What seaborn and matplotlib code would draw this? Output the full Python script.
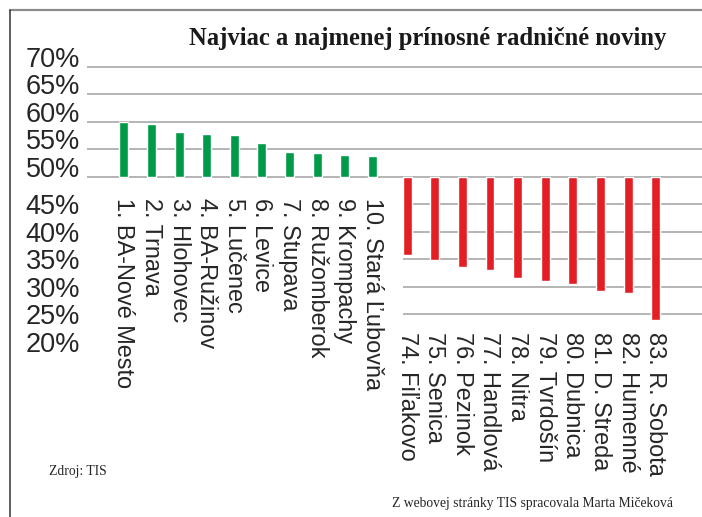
#!/usr/bin/env python3
#===============================================================================
# plot.py
#===============================================================================

# Imports ======================================================================

import numpy as np
import pandas as pd
import seaborn as sns
import matplotlib.pyplot as plt
from matplotlib.lines import Line2D


# Data =========================================================================

top_towns = [
    '1. BA-Nové Mesto', '2. Trnava', '3. Hlohovec', '4. BA-Ružinov',
    '5. Lučenec', '6. Levice', '7. Stupava', '8. Ružomberok',
    '9. Krompachy', '10. Stará Ľubovňa'
]
top_values = [60.0, 59.6, 58.2, 57.8, 57.6, 56.2, 54.5, 54.3, 54.0, 53.8]

bottom_towns = [
    '74. Fiľakovo', '75. Senica', '76. Pezinok', '77. Handlová',
    '78. Nitra', '79. Tvrdošín', '80. Dubnica', '81. D. Streda',
    '82. Humenné', '83. R. Sobota'
]
bottom_values = [35.8, 34.9, 33.7, 33.1, 31.7, 31.1, 30.6, 29.3, 28.9, 24.0]

y_ticks = [70, 65, 60, 55, 50, 45, 40, 35, 30, 25, 20]
baseline = 50

title = 'Najviac a najmenej prínosné radničné noviny'
source_left = 'Zdroj: TIS'
source_right = 'Z webovej stránky TIS spracovala Marta Mičeková'

GREEN = '#009b48'
RED = '#e31e24'
GRID = '#a8a8a8'
TEXT = '#262626'
W, H = 702, 517


# Functions ====================================================================

def fx(px):
    return px / W


def fy(py):
    return 1 - py / H


def main():
    sns.set_theme(style='white')
    plt.rcParams['font.family'] = ['Liberation Sans', 'DejaVu Sans']

    df = pd.DataFrame({
        'town': top_towns + bottom_towns,
        'value': top_values + bottom_values,
        'group': ['top'] * len(top_towns) + ['bottom'] * len(bottom_towns),
    })
    # little extra gap between the two groups of bars
    df['pos'] = np.arange(len(df)) + np.where(df['group'] == 'bottom', 0.25, 0.0)
    df['height'] = df['value'] - baseline
    bar_width = 0.325

    fig = plt.figure(figsize=(W / 100, H / 100), dpi=100)
    ax = fig.add_axes([fx(87), fy(347.5), fx(W - 87), (347.5 - 61) / H])

    sns.barplot(
        data=df, x='pos', y='height', hue='group',
        palette={'top': GREEN, 'bottom': RED}, native_scale=True,
        width=bar_width, dodge=False, legend=False, errorbar=None,
        saturation=1, bottom=baseline, ax=ax, zorder=2
    )

    ax.set_xlim(-1.33, 20.92)
    ax.set_ylim(19, 71)
    ax.set(xlabel='', ylabel='')
    ax.set_xticks([])
    sns.despine(ax=ax, left=True, bottom=True)

    # gridlines: full width above the baseline, only under the red bars below
    lower_start = df.loc[df['group'] == 'bottom', 'pos'].min() - bar_width / 2
    for t in y_ticks:
        if t >= baseline:
            ax.axhline(t, color=GRID, lw=1.2, zorder=0)
        elif t >= min(bottom_values):
            ax.hlines(t, lower_start, ax.get_xlim()[1], color=GRID, lw=1.2,
                      zorder=0)

    ax.set_yticks(y_ticks)
    ax.set_yticklabels(['{}%'.format(t) for t in y_ticks])
    ax.tick_params(axis='y', length=0, pad=5, labelsize=19.5, labelcolor=TEXT)
    for lab, t in zip(ax.get_yticklabels(), y_ticks):
        lab.set_va('baseline' if t >= baseline else 'center_baseline')

    # town names below the bars
    low = min(bottom_values)
    for row in df.itertuples():
        if row.group == 'top':
            xy, off = (row.pos, baseline), -21
        else:
            xy, off = (row.pos, low), -12
        ax.annotate(
            row.town, xy=xy, xytext=(0, off), textcoords='offset pixels',
            rotation=270, ha='center', va='top', fontsize=16.9, color=TEXT
        )

    fig.text(fx(428), fy(39), title, ha='center', va='center',
             family='Liberation Serif', fontweight='bold', fontsize=17.7,
             color='#1a1a1a')
    fig.text(fx(49), fy(471), source_left, ha='left', va='center',
             family='Liberation Serif', fontsize=9.8, color=TEXT)
    fig.text(fx(392), fy(503), source_right, ha='left', va='center',
             family='Liberation Serif', fontsize=9.8, color=TEXT)

    # frame of the newspaper box
    fig.add_artist(Line2D([fx(10), 1], [fy(10), fy(10)], color='#8c8c8c',
                          lw=1.6))
    fig.add_artist(Line2D([fx(10), fx(10)], [0, fy(10)], color='#333333',
                          lw=1.1))

    fig.savefig('out.png', dpi=100)


# Execute ======================================================================

if __name__ == '__main__':
    main()
